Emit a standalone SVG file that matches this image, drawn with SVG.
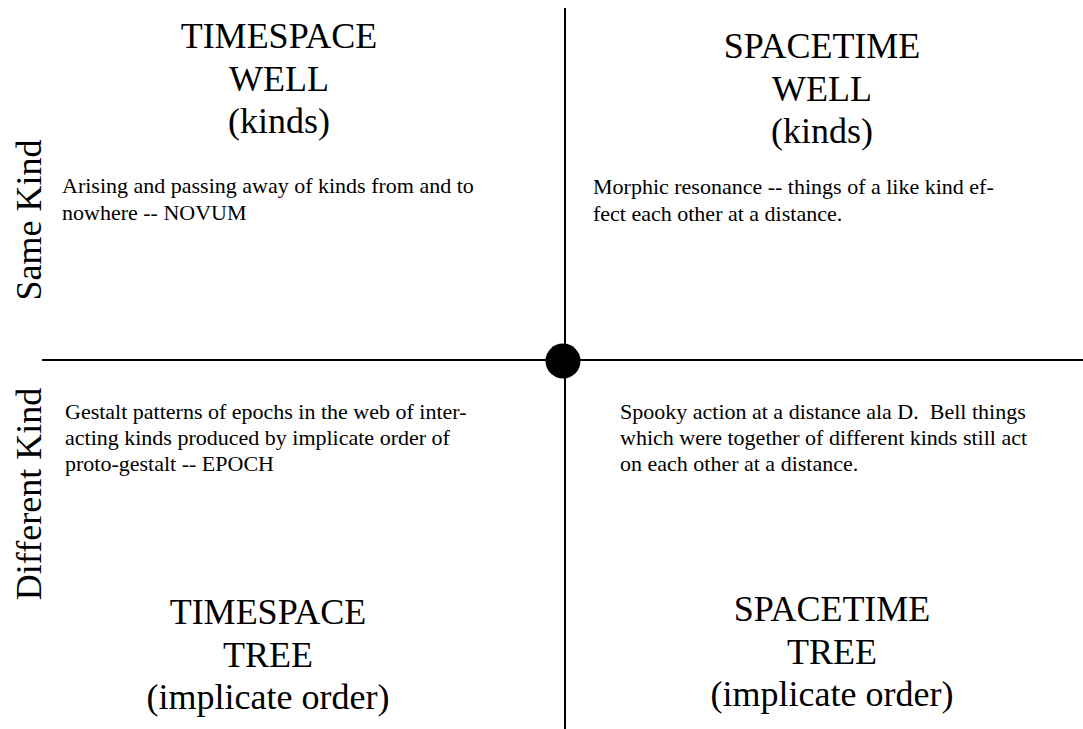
<svg xmlns="http://www.w3.org/2000/svg" width="1083" height="729" viewBox="0 0 1083 729">
<style>
text{font-family:"Liberation Serif","Times New Roman",serif;fill:#000;white-space:pre}
.t{font-size:36px;text-anchor:middle}
.b{font-size:22px}
.ax{stroke:#000;stroke-width:2;fill:none}
</style>
<rect width="1083" height="729" fill="#fff"/>
<g id="connectors">
<line class="ax" x1="42" y1="360" x2="1083" y2="360"/>
<line class="ax" x1="565" y1="8" x2="565" y2="729"/>
</g>
<g id="center"><circle cx="563" cy="361" r="17.5" fill="#000"/></g>
<g id="axis-same"><text class="t" transform="translate(41,220) rotate(-90)">Same Kind</text></g>
<g id="axis-different"><text class="t" transform="translate(41,494) rotate(-90)">Different Kind</text></g>
<g id="timespace-well">
<text class="t" x="279" y="48">TIMESPACE</text>
<text class="t" x="279" y="91">WELL</text>
<text class="t" x="279" y="133">(kinds)</text>
<text class="b" x="62" y="193">Arising and passing away of kinds from and to</text>
<text class="b" x="62" y="220">nowhere -- NOVUM</text>
</g>
<g id="spacetime-well">
<text class="t" x="822" y="58">SPACETIME</text>
<text class="t" x="822" y="101">WELL</text>
<text class="t" x="822" y="143">(kinds)</text>
<text class="b" x="593" y="194">Morphic resonance -- things of a like kind ef-</text>
<text class="b" x="593" y="221">fect each other at a distance.</text>
</g>
<g id="timespace-tree">
<text class="b" x="65" y="419">Gestalt patterns of epochs in the web of inter-</text>
<text class="b" x="65" y="445">acting kinds produced by implicate order of</text>
<text class="b" x="65" y="471">proto-gestalt -- EPOCH</text>
<text class="t" x="268" y="624">TIMESPACE</text>
<text class="t" x="268" y="667">TREE</text>
<text class="t" x="268" y="709">(implicate order)</text>
</g>
<g id="spacetime-tree">
<text class="b" x="620" y="419" xml:space="preserve">Spooky action at a distance ala D.  Bell things</text>
<text class="b" x="620" y="445">which were together of different kinds still act</text>
<text class="b" x="620" y="471">on each other at a distance.</text>
<text class="t" x="832" y="621">SPACETIME</text>
<text class="t" x="832" y="664">TREE</text>
<text class="t" x="832" y="706">(implicate order)</text>
</g>
</svg>
